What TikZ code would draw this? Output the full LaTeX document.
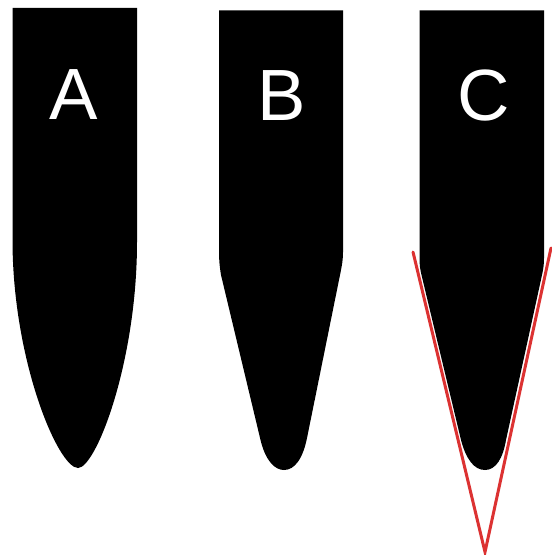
\documentclass[tikz,border=0pt]{standalone}
\usepackage{fontspec}
\setmainfont{Liberation Sans}
\definecolor{vred}{RGB}{220,50,50}
\tikzset{
  blade/.style={fill=black, draw=none},
  letter/.style={text=white, anchor=base, inner sep=0pt, font=\fontsize{72.6bp}{80bp}\selectfont},
  vline/.style={draw=vred, line width=3bp, line cap=round, line join=miter}
}
\begin{document}
\begin{tikzpicture}[x=1bp, y=-1bp]
\useasboundingbox (0,0) rectangle (552,555);
\fill[white] (0,0) rectangle (552,555);
% Blade A (curved)
\path[blade] (12.5,8) -- (137,8) -- (137,242)
  .. controls (137,362) and (96,468) .. (78,468)
  .. controls (58,468) and (12.5,360) .. (12.5,240) -- cycle;
% Blade B (straight taper)
\path[blade] (219,10.5) -- (343,10.5) -- (343,252)
  .. controls (343,260) and (342,265) .. (340,275)
  -- (307,438)
  .. controls (303,458) and (295,470) .. (284,470)
  .. controls (275,470) and (266,461) .. (261,442)
  -- (221,275)
  .. controls (219.5,266) and (219,259) .. (219,252) -- cycle;
% Blade C (taper inside the V)
\path[blade] (419.5,10.5) -- (544,10.5) -- (544,258)
  .. controls (544,264) and (543.5,268) .. (542,275)
  -- (506,440)
  .. controls (503,458) and (496,470) .. (485,470)
  .. controls (474,470) and (466,459) .. (461,440)
  -- (421.5,275)
  .. controls (420,269) and (419.5,264) .. (419.5,258) -- cycle;
% Letters
\node[letter] (la) at (74,120) {A};
\node[letter] (lb) at (282,120.5) {B};
\node[letter] (lc) at (484,120.5) {C};
% Red V
\coordinate (vl) at (413,252);
\coordinate (vr) at (551,248);
\coordinate (vt) at (485,552);
\draw[vline] (vl) -- (vt) -- (vr);
\end{tikzpicture}
\end{document}
